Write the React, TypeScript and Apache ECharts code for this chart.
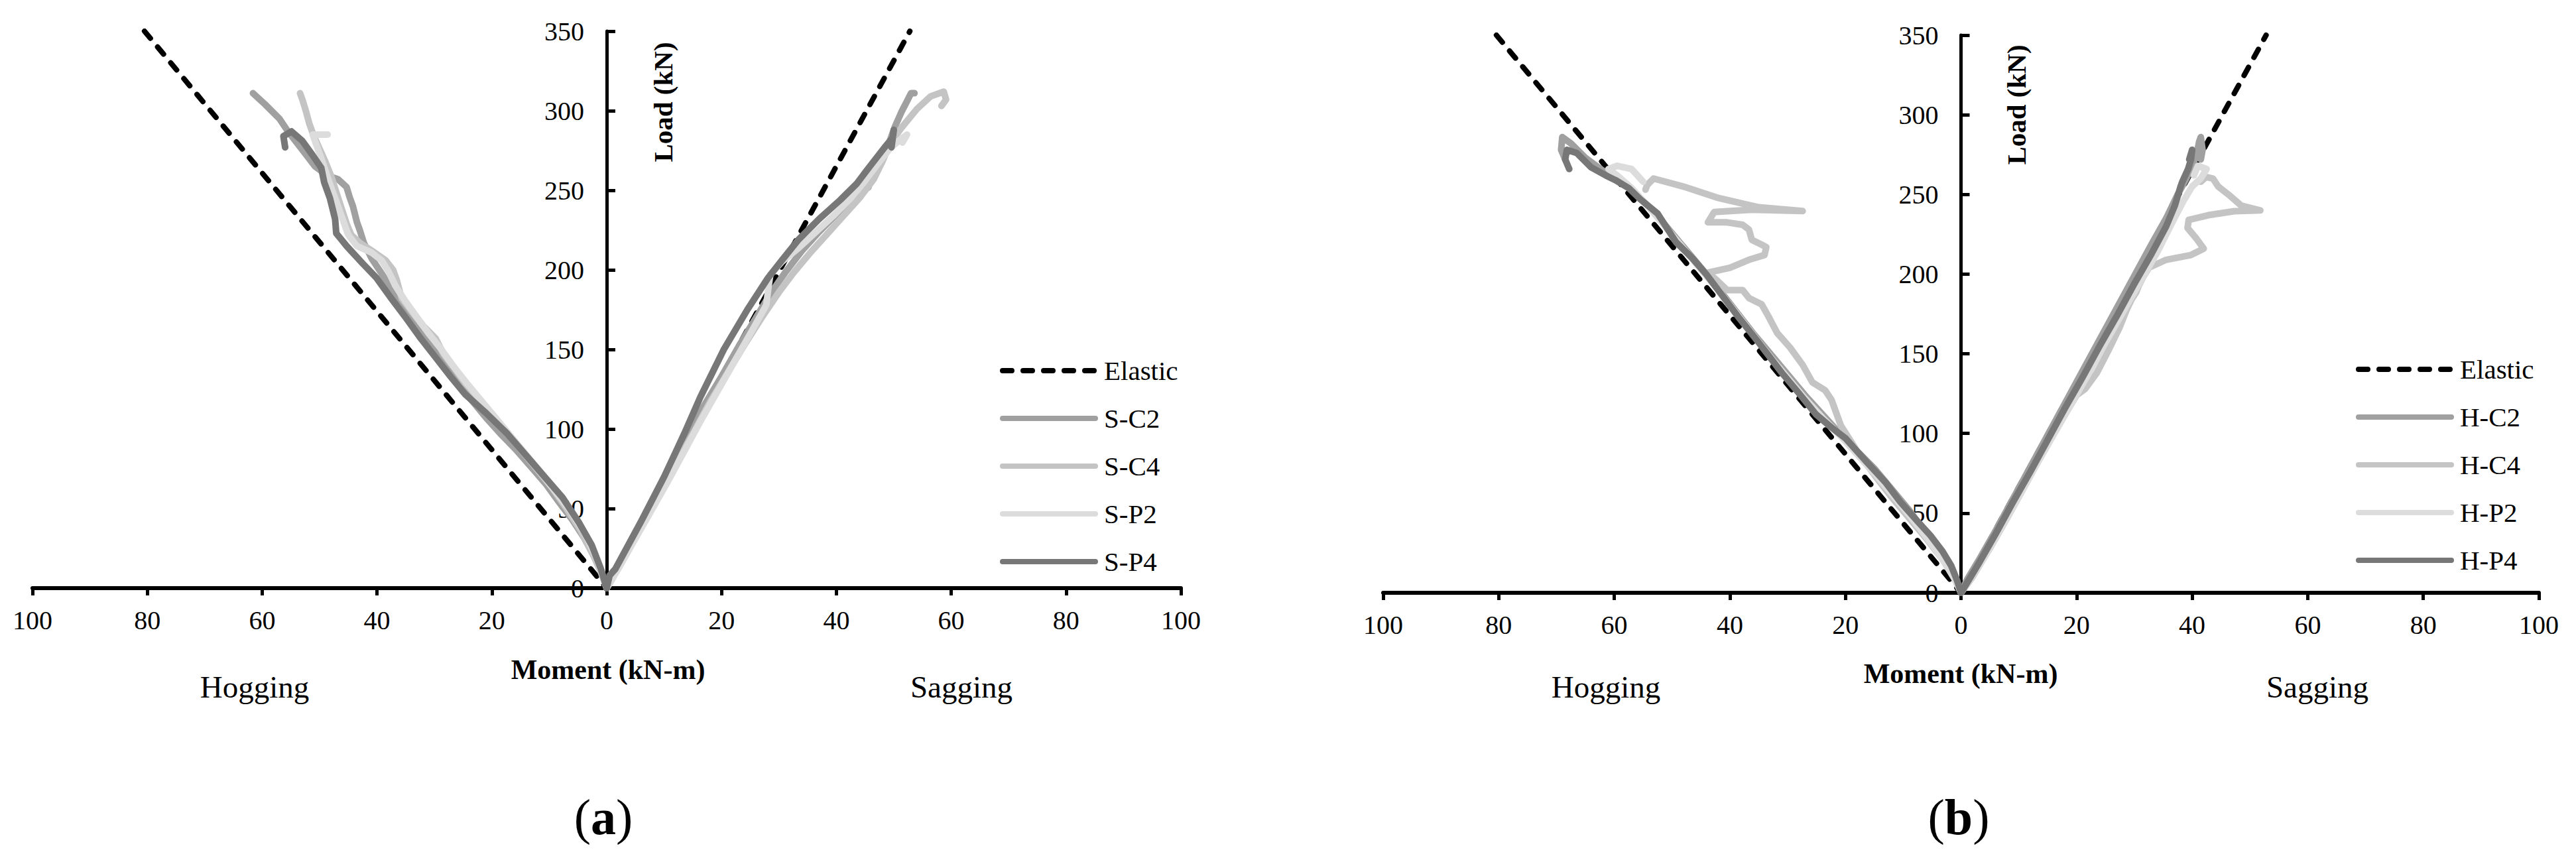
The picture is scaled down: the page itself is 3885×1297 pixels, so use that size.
import React, { useEffect, useRef } from 'react';
import * as echarts from 'echarts';

const FONT = 'Liberation Serif';

// ---------- data: [moment (kN-m, hogging negative), load (kN)] ----------
const xTickValues = [-100, -80, -60, -40, -20, 0, 20, 40, 60, 80, 100];
const yTickValues = [0, 50, 100, 150, 200, 250, 300, 350];

const namesA = ['Elastic', 'S-C2', 'S-C4', 'S-P2', 'S-P4'];
const namesB = ['Elastic', 'H-C2', 'H-C4', 'H-P2', 'H-P4'];
const colors = ['#000000', '#a0a0a0', '#c4c4c4', '#dcdcdc', '#777777'];

const elasticA = [[-80.5, 350], [0, 0], [52.8, 350]];
const elasticB = [[-80.4, 350], [0, 0], [52.8, 350]];

// Panel (a)
const sC2Hog = [[-61.6,311],[-59.5,304],[-57,295],[-55.5,287],[-54,280],[-52.5,273],[-50.8,265],[-48.5,259],[-46.8,257],[-45.3,252],[-44.8,246],[-44.2,240],[-43.5,230],[-43,225],[-42.3,217],[-40.9,207],[-38.7,195],[-37,185],[-35,172],[-33,163],[-30.6,152],[-28.5,142],[-26.1,130],[-23.5,118],[-21,107],[-18.5,97],[-15.8,87],[-12.9,75],[-10.5,65],[-8.5,55],[-6,43],[-4,32],[-2.2,20],[-1.1,12],[0,0]];
const sC2Sag = [[0,0],[1.5,10],[3.5,22],[6,40],[8.5,56],[11,72],[14,95],[17,115],[20,133],[23,152],[26,170],[28.5,185],[31,198],[34,212],[37,224],[40,235],[42.5,243],[44.5,249],[45.6,252],[46,258],[47,265],[48.2,272],[49.2,280],[50.2,290],[51.3,299],[52.3,306],[53,311],[53.6,311]];
const sC4Hog = [[-53.4,311],[-53,307],[-52.4,300],[-51.8,292],[-51,284],[-50,276],[-49,268],[-48,259],[-47.2,250],[-46.3,240],[-45.3,229],[-44.5,222],[-43,217],[-40.9,212],[-38.5,206],[-37.2,200],[-36.6,194],[-35.7,182],[-34,174],[-32,165],[-29.8,157],[-28.4,147],[-26.5,138],[-24.7,129],[-22,118],[-19.5,107],[-17,96],[-14.5,85],[-12,74],[-9.5,63],[-7,50],[-4.5,36],[-2.5,22],[-1,10],[0,0]];
const sC4Sag = [[0,0],[1,6],[3,20],[6,38],[9,58],[12,78],[15,97],[18,117],[21,135],[24,153],[27,170],[30,186],[32.5,198],[35.5,211],[38.5,223],[41.5,235],[44,245],[46.5,257],[48,268],[49.4,280],[51.5,290],[54,301],[56.4,309],[58.7,312],[59.1,307],[58.3,303]];
const sP2Hog = [[-48.6,285],[-51.2,285],[-50.5,278],[-49.5,268],[-48.5,257],[-47.3,245],[-46,232],[-45,222],[-43.5,215],[-41,211],[-39.2,206],[-38,199],[-36.8,190],[-35,180],[-33,170],[-31,160],[-29,151],[-26.8,140],[-24.2,128],[-21.2,115],[-18.2,102],[-15.2,89],[-12.2,76],[-9.2,62],[-6.2,48],[-3.6,33],[-1.6,17],[0,0]];
const sP2Sag = [[0,0],[2,12],[4.5,28],[7.5,47],[10.5,66],[13.5,86],[16.5,106],[19.5,125],[22.5,144],[25.5,163],[27.8,178],[28.2,190],[28.5,197],[30.5,205],[33.5,214],[36.5,224],[39.5,234],[42.5,245],[45,256],[47.5,268],[49.5,277],[51.5,283],[52.3,285],[51.5,280]];
const sP4Hog = [[-56,277],[-56.3,284],[-54.9,287],[-53,281],[-51.2,272],[-49.7,264],[-49.2,255],[-48.2,245],[-47.3,232],[-47.1,223],[-45.3,215],[-42.5,204],[-40.1,195],[-37.5,182],[-35,170],[-32.4,157],[-29.8,145],[-27.2,133],[-24.7,122],[-21,110],[-17.3,97],[-12.5,77],[-7.7,57],[-4.8,41],[-2.6,27],[-1,12],[0,0]];
const sP4Sag = [[0,0],[0.5,8],[1.5,12],[3,22],[6,42],[10,70],[13.5,97],[16.3,120],[20.4,150],[24.5,175],[28.1,195],[30.5,206],[33.4,219],[37,232],[40.7,244],[43.5,254],[45.6,264],[48.4,277],[49.8,283],[50,288],[49.6,277]];

// Panel (b)
const hC2Hog = [[-68.5,272],[-69.2,278],[-69,286],[-67.5,282],[-65,273],[-62,265],[-59.5,260],[-57,253],[-54,242],[-51,230],[-48,217],[-45,204],[-42,191],[-39,177],[-36,163],[-33,150],[-30,137],[-27,124],[-24,112],[-21,100],[-18,89],[-15,78],[-12,65],[-9,52],[-6,37],[-3,22],[-1,10],[0,0]];
const hC2Sag = [[0,0],[1,8],[3,20],[6,39],[9,59],[12,79],[15,99],[18,119],[21,139],[24,159],[27,179],[30,199],[33,219],[35.5,235],[37.5,250],[39,260],[40,268],[40.8,275],[41.2,283],[41.5,286],[41.8,278],[41.5,272]];
const hC4Hog = [[0,0],[-1,8],[-3,20],[-6,34],[-9,47],[-12,60],[-15,74],[-18,89],[-20.8,105],[-22.4,121],[-23.5,127],[-25.7,132],[-27.4,143],[-29.6,154],[-31.8,163],[-33.4,174],[-34.5,181],[-36.7,185],[-37.8,190],[-40.5,190],[-42.2,196],[-43.8,201],[-40,204],[-36.7,209],[-34,212],[-33.7,217],[-34.5,218.5],[-36.2,221.5],[-36.7,228],[-37.8,231],[-40.5,232.5],[-43.8,232.5],[-42.7,239],[-36.2,240.4],[-27.4,239.6],[-35,242],[-42.2,248],[-47.7,254.6],[-53.2,260],[-54.3,256],[-54.6,253]];
const hC4Sag = [[0,0],[2,10],[5,28],[8,47],[11,67],[14,87],[17,106],[20,124],[21.5,128],[23.5,138],[25.5,152],[27.5,167],[28.7,178],[29.5,184],[30.3,188.5],[30.8,193],[31.5,198],[32.5,204],[35.5,209],[39.8,212],[42,216],[40.8,222],[39.2,229],[39.4,234],[42.8,237],[47.3,239.5],[51.8,240],[48.5,243],[46.6,249],[44.5,255],[43.6,260],[42.4,261],[41.5,258]];
const hP2Hog = [[-55,258],[-57,266],[-59.5,268],[-61,266],[-59.5,262],[-57,254],[-54,242],[-51,229],[-48,216],[-45,203],[-42,190],[-39,176],[-36,162],[-33,148],[-30,135],[-27,122],[-24,110],[-21,99],[-18,87],[-15,75],[-12,62],[-9,49],[-6,35],[-3,20],[-1,8],[0,0]];
const hP2Sag = [[0,0],[1.5,8],[4,22],[7,41],[10,60],[13,80],[16,99],[19,118],[22,137],[25,157],[28,176],[31,195],[34,214],[36.5,232],[38.5,246],[40,255],[41.5,260],[42.5,266],[41,268],[40.3,262]];
const hP4Hog = [[-67.8,266],[-68.5,272],[-68.2,278],[-66.5,276],[-64,267],[-61.5,262],[-59.8,259],[-57.5,254],[-55.5,247],[-52.5,238],[-49.3,220],[-46.5,210],[-44.1,200],[-41.2,186],[-38.3,172],[-35,157],[-31,138],[-28,125],[-25.1,112],[-22.5,104],[-20,97],[-16.3,82],[-13,69],[-10.5,57],[-7.8,46],[-5.3,36],[-3.2,26],[-1.7,17],[-0.7,8],[0,0]];
const hP4Sag = [[0,0],[1,6],[3,18],[6,37],[9,57],[12,76],[15,96],[18,116],[21,135],[24,155],[27,174],[30,194],[33,213],[35.5,230],[37,243],[38,255],[38.3,258],[39.3,266],[39.8,272],[40,278],[39.5,272]];

const branchesA = [[sC2Hog, sC2Sag], [sC4Hog, sC4Sag], [sP2Hog, sP2Sag], [sP4Hog, sP4Sag]];
const branchesB = [[hC2Hog, hC2Sag], [hC4Hog, hC4Sag], [hP2Hog, hP2Sag], [hP4Hog, hP4Sag]];

function buildSeries(names: string[], elastic: number[][], branches: number[][][][], idx: number) {
  const out: any[] = [];
  out.push({
    type: 'line', name: names[0], data: elastic, xAxisIndex: idx, yAxisIndex: idx,
    symbol: 'none', showSymbol: false, silent: true,
    lineStyle: { color: colors[0], width: 8, type: [14, 17], cap: 'round', join: 'round' },
    itemStyle: { color: colors[0] },
  });
  branches.forEach((pair, i) => {
    pair.forEach((d) => {
      out.push({
        type: 'line', name: names[i + 1], data: d, xAxisIndex: idx, yAxisIndex: idx,
        symbol: 'none', showSymbol: false, silent: true,
        lineStyle: { color: colors[i + 1], width: 10, cap: 'round', join: 'round' },
        itemStyle: { color: colors[i + 1] },
      });
    });
  });
  return out;
}

const GRIDS = [
  { left: 49, top: 47, width: 1732, height: 840 },
  { left: 2086, top: 53, width: 1743, height: 841 },
];

const axisX = (idx: number) => ({
  type: 'value', gridIndex: idx, min: xTickValues[0], max: xTickValues[xTickValues.length - 1], interval: 20,
  axisLine: { onZero: true, lineStyle: { color: '#000', width: 6 } },
  axisTick: { show: true, length: 11, lineStyle: { color: '#000', width: 5 } },
  axisLabel: { fontSize: 40, fontFamily: FONT, color: '#000', margin: 28, formatter: (v: number) => String(Math.abs(v)) },
  splitLine: { show: false },
});
const axisY = (idx: number) => ({
  type: 'value', gridIndex: idx, min: yTickValues[0], max: yTickValues[yTickValues.length - 1], interval: 50,
  position: 'left',
  offset: -GRIDS[idx].width / 2,
  axisLine: { show: true, onZero: false, lineStyle: { color: '#000', width: 5 } },
  axisTick: { show: true, inside: true, length: 13, lineStyle: { color: '#000', width: 5 } },
  axisLabel: { fontSize: 40, fontFamily: FONT, color: '#000', margin: 34 },
  splitLine: { show: false },
});

const legendCfg = (names: string[], left: number, top: number) => ({
  data: names, orient: 'vertical', left, top, itemWidth: 140, itemHeight: 20, itemGap: 28,
  selectedMode: false,
  lineStyle: { width: 8 },
  itemStyle: { opacity: 0 },
  formatter: (n: string) => `{g| }${n}`,
  textStyle: {
    fontSize: 41, fontFamily: FONT, color: '#000', lineHeight: 44,
    rich: { g: { width: 8, fontSize: 41, fontFamily: FONT } },
  },
});

const txt = (text: string, x: number, y: number, size: number, bold: boolean, rotation = 0) => ({
  type: 'text', x, y, rotation, silent: true,
  style: { text, fontSize: size, fontFamily: FONT, fontWeight: bold ? 'bold' : 'normal', fill: '#000', align: 'center', verticalAlign: 'middle' },
});
const panelLabel = (letter: string, x: number, y: number) => ({
  type: 'text', x, y, silent: true,
  style: {
    text: `{n|(}{b|${letter}}{n|)}`, align: 'center', verticalAlign: 'middle', fill: '#000',
    rich: {
      n: { fontSize: 76, fontFamily: FONT, fill: '#000' },
      b: { fontSize: 76, fontFamily: FONT, fontWeight: 'bold', fill: '#000' },
    },
  },
});

export default function App() {
  const ref = useRef<HTMLDivElement>(null);
  useEffect(() => {
    if (!ref.current) return;
    const chart = echarts.init(ref.current, undefined, { renderer: 'svg' });
    chart.setOption({
      animation: false,
      backgroundColor: '#ffffff',
      grid: GRIDS.map((g) => ({ ...g, containLabel: false, outerBoundsMode: 'none' })),
      xAxis: [axisX(0), axisX(1)],
      yAxis: [axisY(0), axisY(1)],
      legend: [legendCfg(namesA, 1503, 532), legendCfg(namesB, 3548, 530)],
      series: [...buildSeries(namesA, elasticA, branchesA, 0), ...buildSeries(namesB, elasticB, branchesB, 1)],
      graphic: [
        txt('Load (kN)', 1000, 154, 41, true, Math.PI / 2),
        txt('Moment (kN-m)', 917, 1010, 42, true),
        txt('Hogging', 384, 1036, 47, false),
        txt('Sagging', 1450, 1036, 47, false),
        panelLabel('a', 910, 1232),
        txt('Load (kN)', 3041, 158, 41, true, Math.PI / 2),
        txt('Moment (kN-m)', 2957, 1016, 42, true),
        txt('Hogging', 2422, 1036, 47, false),
        txt('Sagging', 3495, 1036, 47, false),
        panelLabel('b', 2954, 1232),
      ],
    });
    return () => chart.dispose();
  }, []);
  return <div ref={ref} style={{ position: 'absolute', left: 0, top: 0, width: 3885, height: 1297 }} />;
}
